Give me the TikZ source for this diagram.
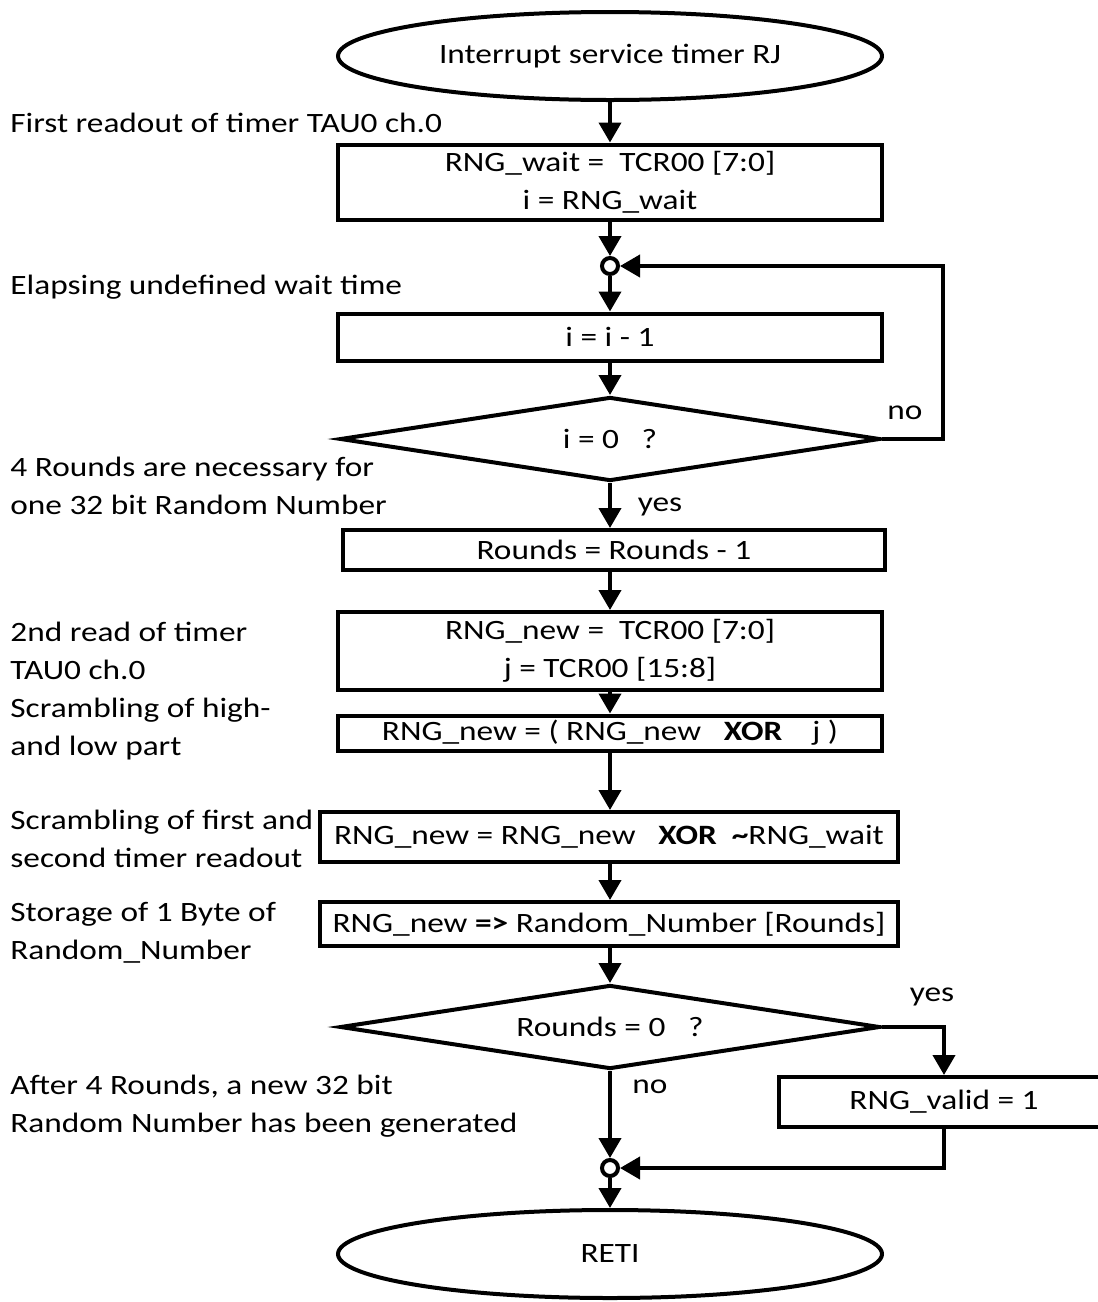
\documentclass[tikz,border=0pt]{standalone}
\usepackage{fontspec}
\setmainfont{Carlito}[FakeStretch=1.19]
\usetikzlibrary{shapes.geometric,arrows.meta}

\tikzset{
  flow/.style={line width=2pt},
  arr/.style={flow,-{Triangle[length=10pt,width=11pt]}},
  stepbox/.style={draw,flow,rectangle,inner sep=0pt,align=center,
    minimum width=272pt},
  termnode/.style={draw,flow,ellipse,inner sep=0pt,minimum width=272pt,
    minimum height=44pt},
  decide/.style={draw,flow,diamond,aspect=8,inner sep=0pt,minimum width=270pt,
    minimum height=42pt},
  joint/.style={draw,flow,circle,fill=white,inner sep=0pt,minimum size=8pt},
  note/.style={anchor=west,align=left,inner sep=0pt},
  tag/.style={inner sep=0pt}
}
\newcommand{\lowtext}[1]{\raisebox{-4pt}{#1}}

\begin{document}
\begin{tikzpicture}[x=0.5pt,y=-0.5pt,
  every node/.append style={font=\fontsize{14}{19}\selectfont}]
  \useasboundingbox (0,0) rectangle (1098,1302);
  \clip (0,0) rectangle (1098,1302);
  % Nodes
  \node[termnode] (start) at (610,56) {Interrupt service timer RJ};
  \node[stepbox,minimum height=37.5pt] (wait) at (610,182)
    {RNG\_wait =~ TCR00 [7:0]\\ i = RNG\_wait};
  \node[joint] (j1) at (610,266) {};
  \node[stepbox,minimum height=23.5pt] (dec) at (610,337) {i = i - 1};
  \node[decide] (zero) at (610,439) {\lowtext{i = 0~~~?}};
  \node[stepbox,minimum width=271pt,minimum height=20pt] (rounds) at (614,550)
    {Rounds = Rounds - 1};
  \node[stepbox,minimum height=39pt] (read) at (610,651)
    {RNG\_new =~ TCR00 [7:0]\\ j = TCR00 [15:8]};
  \node[stepbox,minimum height=17.5pt] (xorj) at (610,733)
    {RNG\_new = ( RNG\_new~~~\textbf{XOR}~~~~j )};
  \node[stepbox,minimum width=289pt,minimum height=25pt] (xorw) at (609,837)
    {RNG\_new = RNG\_new~~~\textbf{XOR}~~\textbf{\textasciitilde}RNG\_wait};
  \node[stepbox,minimum width=289pt,minimum height=22pt] (store) at (609,924)
    {RNG\_new \textbf{=>} Random\_Number [Rounds]};
  \node[decide] (last) at (610,1027) {Rounds = 0~~~?};
  \node[stepbox,minimum width=165pt,minimum height=25pt] (valid) at (944,1102)
    {RNG\_valid = 1};
  \node[joint] (j2) at (610,1168) {};
  \node[termnode] (reti) at (610,1254) {RETI};
  \coordinate (loop) at (943,266);
  % Drawing
  \draw[arr] (start) -- (wait);
  \draw[arr] (wait) -- (j1);
  \draw[arr] (j1) -- (dec);
  \draw[arr] (dec) -- (zero);
  \draw[arr] (zero.east) -| (loop) -- (j1);
  \draw[arr] (zero) -- (rounds.north -| zero);
  \draw[arr] (rounds.south -| read) -- (read);
  \draw[arr] (read) -- (xorj);
  \draw[arr] (xorj) -- (xorw.north -| xorj);
  \draw[arr] (xorw.south -| xorj) -- (store.north -| xorj);
  \draw[arr] (store.south -| last) -- (last);
  \draw[arr] (last.east) -| (valid.north);
  \draw[arr] (valid.south) |- (j2);
  \draw[arr] (last) -- (j2);
  \draw[arr] (j2) -- (reti);
  % Labels
  \node[tag] (noA) at (905,413) {no};
  \node[tag] (yesA) at (660,507) {yes};
  \node[tag] (yesB) at (932,997) {yes};
  \node[tag] (noB) at (650,1087) {no};
  \node[note] (n1) at (10,123) {First readout of timer TAU0 ch.0};
  \node[note] (n2) at (10,287) {Elapsing undefined wait time};
  \node[note] (n3) at (10,486) {4 Rounds are necessary for\\ one 32 bit Random Number};
  \node[note] (n4) at (10,651) {2nd read of timer\\ TAU0 ch.0};
  \node[note] (n5) at (10,729) {Scrambling of high-\\ and low part};
  \node[note] (n6) at (10,839) {Scrambling of first and\\ second timer readout};
  \node[note] (n7) at (10,933) {Storage of 1 Byte of\\ Random\_Number};
  \node[note] (n8) at (10,1106) {After 4 Rounds, a new 32 bit\\ Random Number has been generated};
\end{tikzpicture}
\end{document}
